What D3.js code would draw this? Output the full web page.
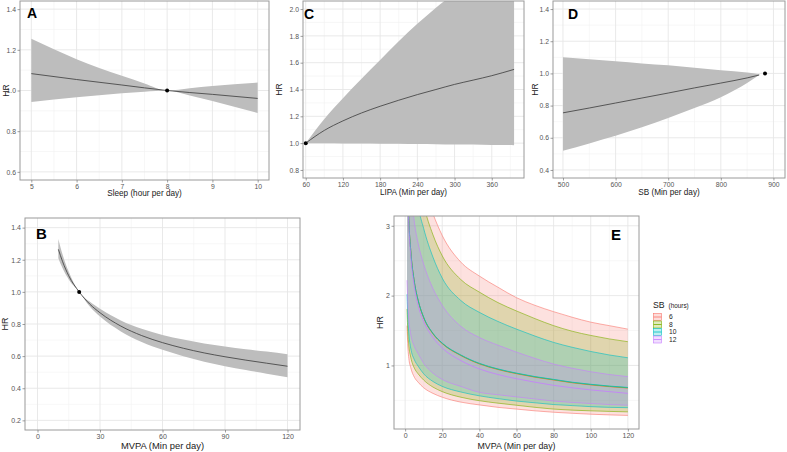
<!DOCTYPE html>
<html><head><meta charset="utf-8">
<script src="https://cdn.jsdelivr.net/npm/d3@7"></script>
<style>body{margin:0;background:#fff}svg{display:block;font-family:"Liberation Sans",Arial,sans-serif}</style>
</head><body><svg id="c" width="787" height="452"></svg>
<script>
// ---------- Panel A: Sleep ----------
const A_x  = [5, 6, 7, 7.5, 8, 8.5, 9, 10];
const A_hr = [1.083, 1.054, 1.027, 1.013, 1.0, 0.99, 0.981, 0.961];
const A_lo = [0.943, 0.967, 0.987, 0.994, 1.0, 0.975, 0.948, 0.889];
const A_hi = [1.254, 1.154, 1.072, 1.035, 1.0, 1.011, 1.022, 1.039];
const A_ref = [8, 1.0];
const A_xticks = [5, 6, 7, 8, 9, 10];
const A_yticks = [0.6, 0.8, 1.0, 1.2, 1.4];

// ---------- Panel B: MVPA ----------
const B_x  = [10, 12, 15, 20, 25, 30, 40, 50, 60, 70, 80, 90, 100, 110, 120];
const B_hr = [1.265, 1.19, 1.10, 1.0, 0.925, 0.87, 0.787, 0.728, 0.684, 0.649, 0.62, 0.596, 0.575, 0.556, 0.537];
const B_lo = [1.21, 1.148, 1.077, 1.0, 0.91, 0.846, 0.754, 0.688, 0.639, 0.599, 0.565, 0.537, 0.513, 0.491, 0.469];
const B_hi = [1.33, 1.235, 1.125, 1.0, 0.94, 0.895, 0.822, 0.77, 0.732, 0.703, 0.679, 0.66, 0.643, 0.628, 0.612];
const B_ref = [20, 1.0];
const B_xticks = [0, 30, 60, 90, 120];
const B_yticks = [0.2, 0.4, 0.6, 0.8, 1.0, 1.2, 1.4];

// ---------- Panel C: LIPA ----------
const C_x  = [60, 90, 120, 150, 180, 210, 240, 270, 300, 330, 360, 396];
const C_hr = [1.0, 1.095, 1.166, 1.225, 1.275, 1.32, 1.362, 1.40, 1.438, 1.47, 1.503, 1.55];
const C_lo = [1.0, 0.999, 0.998, 0.997, 0.996, 0.995, 0.993, 0.992, 0.99, 0.989, 0.987, 0.985];
const C_hi = [1.0, 1.18, 1.335, 1.48, 1.62, 1.76, 1.89, 2.01, 2.12, 2.24, 2.36, 2.50];
const C_ref = [60, 1.0];
const C_xticks = [60, 120, 180, 240, 300, 360];
const C_yticks = [0.8, 1.0, 1.2, 1.4, 1.6, 1.8, 2.0];

// ---------- Panel D: SB ----------
const D_x  = [500, 550, 600, 650, 700, 750, 800, 850, 873];
const D_hr = [0.755, 0.785, 0.816, 0.847, 0.878, 0.91, 0.94, 0.972, 0.99];
const D_lo = [0.52, 0.565, 0.612, 0.665, 0.723, 0.785, 0.852, 0.94, 0.99];
const D_hi = [1.10, 1.088, 1.075, 1.062, 1.05, 1.035, 1.02, 1.005, 0.995];
const D_ref = [884, 1.0];
const D_xticks = [500, 600, 700, 800, 900];
const D_yticks = [0.4, 0.6, 0.8, 1.0, 1.2, 1.4];

// ---------- Panel E: MVPA by SB hours ----------
const E_groups = ["6", "8", "10", "12"];
const E_colors = ["#F8766D", "#7CAE00", "#00BFC4", "#C77CFF"];
const E_x = [1, 1.5, 2, 3, 5, 7, 10, 15, 20, 30, 40, 50, 60, 70, 80, 90, 100, 110, 120];
const E_hr6  = [4.1, 3.5, 3.08, 2.65, 2.19, 1.93, 1.68, 1.45, 1.31, 1.14, 1.02, 0.94, 0.88, 0.83, 0.79, 0.75, 0.72, 0.695, 0.675];
const E_hr8  = [4.1, 3.5, 3.08, 2.65, 2.19, 1.93, 1.685, 1.455, 1.315, 1.145, 1.025, 0.945, 0.885, 0.835, 0.795, 0.755, 0.725, 0.70, 0.68];
const E_hr10 = [4.1, 3.5, 3.08, 2.65, 2.19, 1.935, 1.69, 1.46, 1.32, 1.15, 1.03, 0.95, 0.89, 0.84, 0.80, 0.76, 0.73, 0.705, 0.685];
const E_hr12 = [4.0, 3.4, 3.0, 2.58, 2.12, 1.86, 1.63, 1.40, 1.25, 1.07, 0.95, 0.87, 0.81, 0.76, 0.715, 0.68, 0.65, 0.625, 0.60];
const E_lo6  = [1.57, 1.25, 1.10, 0.97, 0.83, 0.76, 0.68, 0.60, 0.545, 0.475, 0.435, 0.40, 0.375, 0.35, 0.33, 0.315, 0.302, 0.292, 0.285];
const E_lo8  = [1.81, 1.45, 1.28, 1.12, 0.96, 0.88, 0.79, 0.69, 0.625, 0.545, 0.495, 0.46, 0.43, 0.40, 0.375, 0.36, 0.35, 0.342, 0.335];
const E_lo10 = [2.02, 1.65, 1.45, 1.25, 1.08, 0.99, 0.88, 0.77, 0.70, 0.62, 0.565, 0.525, 0.49, 0.465, 0.44, 0.425, 0.41, 0.40, 0.395];
const E_lo12 = [2.22, 1.85, 1.65, 1.45, 1.27, 1.17, 1.03, 0.89, 0.80, 0.70, 0.615, 0.58, 0.55, 0.52, 0.49, 0.47, 0.455, 0.44, 0.43];
const E_hi6  = [8.0, 7.0, 6.3, 5.5, 4.6, 4.0, 3.55, 3.17, 2.86, 2.48, 2.28, 2.12, 1.97, 1.86, 1.77, 1.69, 1.62, 1.57, 1.52];
const E_hi8  = [7.5, 6.5, 5.9, 5.1, 4.2, 3.7, 3.3, 2.87, 2.57, 2.23, 2.05, 1.90, 1.78, 1.67, 1.57, 1.49, 1.43, 1.38, 1.34];
const E_hi10 = [7.0, 6.0, 5.4, 4.6, 3.75, 3.3, 2.96, 2.55, 2.25, 1.93, 1.76, 1.63, 1.52, 1.42, 1.33, 1.26, 1.20, 1.15, 1.11];
const E_hi12 = [5.5, 4.7, 4.2, 3.6, 3.05, 2.75, 2.45, 2.1, 1.86, 1.56, 1.40, 1.29, 1.19, 1.10, 1.02, 0.96, 0.91, 0.87, 0.84];
const E_xticks = [0, 20, 40, 60, 80, 100, 120];
const E_yticks = [1, 2, 3];

// ================= drawing =================
const svg = d3.select("#c");
let clipId = 0;

function panel(cfg) {
  const {x0, x1, y0, y1} = cfg.box;
  const x = d3.scaleLinear().domain(cfg.xDomain).range([x0, x1]);
  const y = d3.scaleLinear().domain(cfg.yDomain).range([y1, y0]);
  const g = svg.append("g");
  const inX = v => v > cfg.xDomain[0] && v < cfg.xDomain[1];
  const inY = v => v > cfg.yDomain[0] && v < cfg.yDomain[1];
  const grid = g.append("g");
  cfg.xMinor.filter(inX).forEach(v => grid.append("line").attr("x1", x(v)).attr("x2", x(v)).attr("y1", y0).attr("y2", y1).attr("stroke", "#f2f2f2").attr("stroke-width", 0.6));
  cfg.yMinor.filter(inY).forEach(v => grid.append("line").attr("y1", y(v)).attr("y2", y(v)).attr("x1", x0).attr("x2", x1).attr("stroke", "#f2f2f2").attr("stroke-width", 0.6));
  cfg.xTicks.filter(inX).forEach(v => grid.append("line").attr("x1", x(v)).attr("x2", x(v)).attr("y1", y0).attr("y2", y1).attr("stroke", "#e6e6e6").attr("stroke-width", 0.9));
  cfg.yTicks.filter(inY).forEach(v => grid.append("line").attr("y1", y(v)).attr("y2", y(v)).attr("x1", x0).attr("x2", x1).attr("stroke", "#e6e6e6").attr("stroke-width", 0.9));
  const cid = "clip" + (clipId++);
  svg.append("clipPath").attr("id", cid).append("rect").attr("x", x0).attr("y", y0).attr("width", x1 - x0).attr("height", y1 - y0);
  const plot = g.append("g").attr("clip-path", `url(#${cid})`);
  cfg.draw(plot, x, y);
  g.append("rect").attr("x", x0).attr("y", y0).attr("width", x1 - x0).attr("height", y1 - y0)
    .attr("fill", "none").attr("stroke", "#9a9a9a").attr("stroke-width", 1);
  const ax = g.append("g").attr("transform", `translate(0,${y1})`)
    .call(d3.axisBottom(x).tickValues(cfg.xTicks).tickFormat(cfg.xFmt).tickSize(2.5).tickPadding(1.5));
  const ay = g.append("g").attr("transform", `translate(${x0},0)`)
    .call(d3.axisLeft(y).tickValues(cfg.yTicks).tickFormat(cfg.yFmt).tickSize(2.5).tickPadding(1.5));
  [ax, ay].forEach(a => {
    a.select(".domain").remove();
    a.selectAll(".tick line").attr("stroke", "#777").attr("stroke-width", 0.7);
    a.selectAll(".tick text").attr("fill", "#555").style("font-size", cfg.tickSize + "px")
      .style("font-family", '"Liberation Sans",Arial,sans-serif');
  });
  g.append("text").attr("x", (x0 + x1) / 2).attr("y", cfg.titleY).attr("text-anchor", "middle")
    .style("font-size", cfg.titleSize + "px").attr("fill", "#222").text(cfg.xTitle);
  g.append("text").attr("transform", `translate(${cfg.hrX},${(y0 + y1) / 2}) rotate(-90)`)
    .attr("text-anchor", "middle").style("font-size", cfg.hrSize + "px").attr("fill", "#222").text("HR");
  g.append("text").attr("x", cfg.letter[1]).attr("y", cfg.letter[2]).style("font-size", cfg.letter[3] + "px")
    .style("font-weight", "bold").attr("fill", "#000").text(cfg.letter[0]);
  return {x, y};
}

function bandPanel(xs, hr, lo, hi, ref) {
  return (p, x, y) => {
    const pts = xs.map((v, i) => ({x: v, hr: hr[i], lo: lo[i], hi: hi[i]}));
    p.append("path").datum(pts)
      .attr("d", d3.area().x(d => x(d.x)).y0(d => y(d.lo)).y1(d => y(d.hi)).curve(d3.curveMonotoneX))
      .attr("fill", "#bdbdbd");
    p.append("path").datum(pts)
      .attr("d", d3.line().x(d => x(d.x)).y(d => y(d.hr)).curve(d3.curveMonotoneX))
      .attr("fill", "none").attr("stroke", "#3a3a3a").attr("stroke-width", 0.8);
    p.append("circle").attr("cx", x(ref[0])).attr("cy", y(ref[1])).attr("r", 2).attr("fill", "#000");
  };
}

const f1 = d3.format(".1f"), fi = d3.format("d");

panel({box: {x0: 20, x1: 269, y0: 1, y1: 180}, xDomain: [4.75, 10.25], yDomain: [0.56, 1.44],
  xTicks: A_xticks, yTicks: A_yticks, xMinor: [5.5, 6.5, 7.5, 8.5, 9.5], yMinor: [0.7, 0.9, 1.1, 1.3],
  xFmt: fi, yFmt: f1, tickSize: 6.8, xTitle: "Sleep (hour per day)", titleY: 196, titleSize: 8.2,
  hrX: 9, hrSize: 8.5, letter: ["A", 27, 18, 14],
  draw: bandPanel(A_x, A_hr, A_lo, A_hi, A_ref)});

panel({box: {x0: 303, x1: 524, y0: 1, y1: 178}, xDomain: [55.6, 412], yDomain: [0.74, 2.06],
  xTicks: C_xticks, yTicks: C_yticks, xMinor: [90, 150, 210, 270, 330, 390], yMinor: [0.9, 1.1, 1.3, 1.5, 1.7, 1.9],
  xFmt: fi, yFmt: f1, tickSize: 6.8, xTitle: "LIPA (Min per day)", titleY: 195, titleSize: 8.2,
  hrX: 282, hrSize: 8.5, letter: ["C", 304, 19, 14],
  draw: bandPanel(C_x, C_hr, C_lo, C_hi, C_ref)});

panel({box: {x0: 553, x1: 785, y0: 1, y1: 178}, xDomain: [481, 922], yDomain: [0.35, 1.45],
  xTicks: D_xticks, yTicks: D_yticks, xMinor: [550, 650, 750, 850], yMinor: [0.5, 0.7, 0.9, 1.1, 1.3],
  xFmt: fi, yFmt: f1, tickSize: 6.8, xTitle: "SB (Min per day)", titleY: 195, titleSize: 8.2,
  hrX: 538, hrSize: 8.5, letter: ["D", 568, 19, 14],
  draw: bandPanel(D_x, D_hr, D_lo, D_hi, D_ref)});

panel({box: {x0: 25, x1: 300, y0: 218, y1: 430}, xDomain: [-6, 126], yDomain: [0.14, 1.46],
  xTicks: B_xticks, yTicks: B_yticks, xMinor: [15, 45, 75, 105], yMinor: [0.3, 0.5, 0.7, 0.9, 1.1, 1.3],
  xFmt: fi, yFmt: f1, tickSize: 7, xTitle: "MVPA (Min per day)", titleY: 449, titleSize: 9.4,
  hrX: 8, hrSize: 9, letter: ["B", 36, 239, 15],
  draw: bandPanel(B_x, B_hr, B_lo, B_hi, B_ref)});

const E_hr = [E_hr6, E_hr8, E_hr10, E_hr12];
const E_lo = [E_lo6, E_lo8, E_lo10, E_lo12];
const E_hi = [E_hi6, E_hi8, E_hi10, E_hi12];
panel({box: {x0: 394, x1: 639, y0: 216, y1: 429}, xDomain: [-6, 126], yDomain: [0.09, 3.14],
  xTicks: E_xticks, yTicks: E_yticks, xMinor: [10, 30, 50, 70, 90, 110], yMinor: [0.5, 1.5, 2.5],
  xFmt: fi, yFmt: fi, tickSize: 7, xTitle: "MVPA (Min per day)", titleY: 449, titleSize: 8.8,
  hrX: 383, hrSize: 9, letter: ["E", 611, 240, 15],
  draw: (p, x, y) => {
    const sets = E_groups.map((gname, k) => E_x.map((v, i) => ({x: v, hr: E_hr[k][i], lo: E_lo[k][i], hi: E_hi[k][i]})));
    sets.forEach((pts, k) => {
      p.append("path").datum(pts)
        .attr("d", d3.area().x(d => x(d.x)).y0(d => y(d.lo)).y1(d => y(d.hi)).curve(d3.curveMonotoneX))
        .attr("fill", E_colors[k]).attr("fill-opacity", 0.22);
    });
    sets.forEach((pts, k) => {
      ["lo", "hi"].forEach(key => {
        p.append("path").datum(pts)
          .attr("d", d3.line().x(d => x(d.x)).y(d => y(d[key])).curve(d3.curveMonotoneX))
          .attr("fill", "none").attr("stroke", E_colors[k]).attr("stroke-width", 0.6);
      });
    });
    sets.forEach((pts, k) => {
      p.append("path").datum(pts)
        .attr("d", d3.line().x(d => x(d.x)).y(d => y(d.hr)).curve(d3.curveMonotoneX))
        .attr("fill", "none").attr("stroke", E_colors[k]).attr("stroke-width", 0.8);
    });
  }});

const lg = svg.append("g").attr("transform", "translate(653,0)");
lg.append("text").attr("x", 0).attr("y", 308).style("font-size", "8.7px").attr("fill", "#222").text("SB");
lg.append("text").attr("x", 15.5).attr("y", 308).style("font-size", "6.4px").attr("fill", "#222").text("(hours)");
E_groups.forEach((gname, k) => {
  const yy = 313.5 + k * 7.5;
  lg.append("rect").attr("x", 0.5).attr("y", yy).attr("width", 8).attr("height", 7)
    .attr("fill", E_colors[k]).attr("fill-opacity", 0.25).attr("stroke", E_colors[k]).attr("stroke-width", 0.6);
  lg.append("line").attr("x1", 0.5).attr("x2", 8.5).attr("y1", yy + 3.5).attr("y2", yy + 3.5)
    .attr("stroke", E_colors[k]).attr("stroke-width", 0.8);
  lg.append("text").attr("x", 16).attr("y", yy + 5.8).style("font-size", "6.7px").attr("fill", "#222").text(gname);
});
</script></body></html>
